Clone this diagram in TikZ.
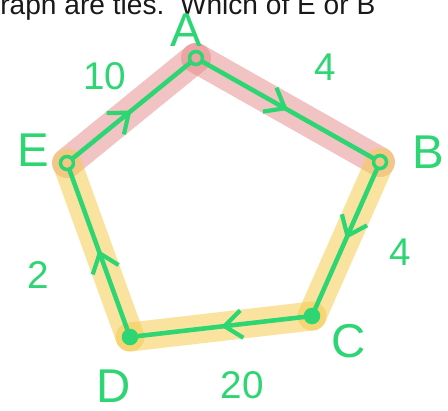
\documentclass[tikz,border=0pt]{standalone}
\usepackage{fontspec}
\setmainfont{Liberation Sans}
\usetikzlibrary{arrows.meta,decorations.markings,backgrounds}
\definecolor{edgegreen}{RGB}{46,213,115}
\definecolor{pathred}{RGB}{230,135,135}
\definecolor{pathyellow}{RGB}{244,204,80}
\definecolor{textgray}{RGB}{25,25,25}
\tikzset{
    vertex/.style={
        circle,
        draw=edgegreen,
        line width=2pt,
        inner sep=0pt,
        minimum size=0.26cm
    },
    dotvertex/.style={vertex, fill=edgegreen},
    link/.style={
        draw=edgegreen,
        line width=2.6pt,
        line cap=round,
        postaction={decorate},
        decoration={markings,
            mark=at position 0.5 with {\arrow{Straight Barb[length=3.5mm,width=5.5mm,line width=2.4pt]}}}
    },
    redband/.style={draw=pathred, line width=0.6cm, line cap=round, opacity=0.5},
    yellowband/.style={draw=pathyellow, line width=0.58cm, line cap=round, opacity=0.55},
    vlabel/.style={text=edgegreen, font=\fontsize{27}{30}\selectfont},
    wlabel/.style={text=edgegreen, font=\fontsize{22}{26}\selectfont}
}

\begin{document}
\begin{tikzpicture}[x=0.02cm, y=-0.02cm]
    \useasboundingbox (0,0) rectangle (448,410);

    % Caption cut off at the top
    \node[anchor=base west, inner sep=0pt, text=textgray, font=\fontsize{16}{19}\selectfont] (caption) at (0,14) {raph are ties.\ \ Which of E or B};

    % Vertices
    \node[vertex] (A) at (196,58) {};
    \node[vertex] (B) at (380,162) {};
    \node[dotvertex] (C) at (312,316) {};
    \node[dotvertex] (D) at (130,337) {};
    \node[vertex] (E) at (67,163) {};

    % Highlighted paths
    \begin{scope}[on background layer]
        \draw[redband] (E.center) -- (A.center);
        \draw[redband] (A.center) -- (B.center);
        \draw[yellowband] (B.center) -- (C.center);
        \draw[yellowband] (C.center) -- (D.center);
        \draw[yellowband] (D.center) -- (E.center);
    \end{scope}

    % Directed edges
    \draw[link] (E) -- (A);
    \draw[link] (A) -- (B);
    \draw[link] (B) -- (C);
    \draw[link] (C) -- (D);
    \draw[link] (D) -- (E);

    % Vertex names
    \node[vlabel] (labA) at (186,30) {A};
    \node[vlabel] (labB) at (428,152) {B};
    \node[vlabel] (labC) at (349,341) {C};
    \node[vlabel] (labD) at (114,386) {D};
    \node[vlabel] (labE) at (33,150) {E};

    % Weights
    \node[wlabel] (wEA) at (105,76) {10};
    \node[wlabel] (wAB) at (325,67) {4};
    \node[wlabel] (wBC) at (400,252) {4};
    \node[wlabel] (wCD) at (242,385) {20};
    \node[wlabel] (wDE) at (38,275) {2};
\end{tikzpicture}
\end{document}
